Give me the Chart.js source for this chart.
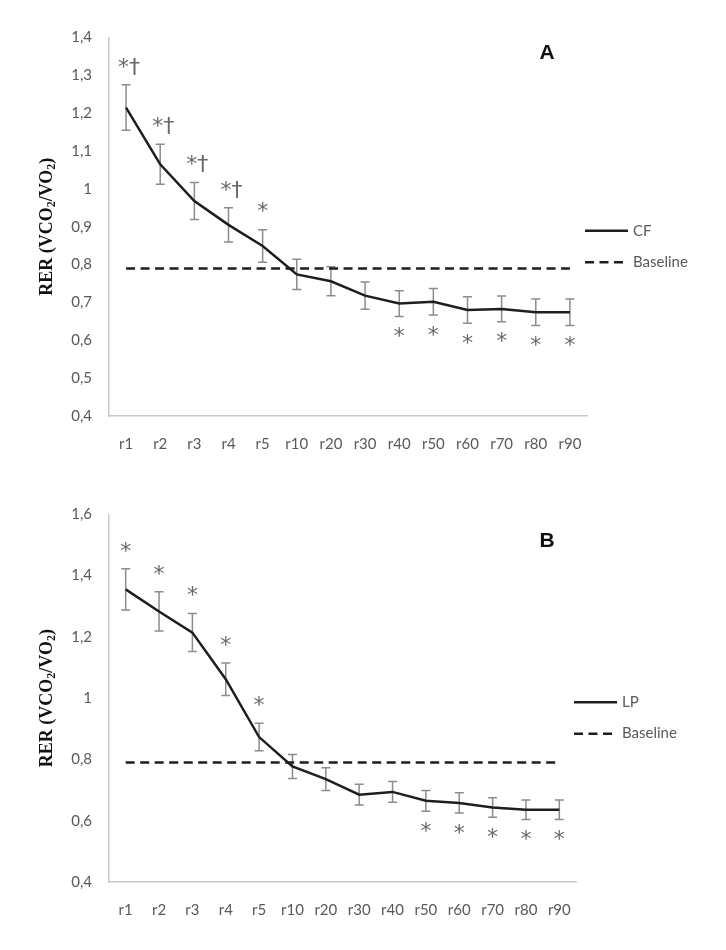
<!DOCTYPE html>
<html>
<head>
<meta charset="utf-8">
<script src="https://cdn.jsdelivr.net/npm/chart.js@4.4.1/dist/chart.umd.min.js"></script>
<style>
  html, body { margin: 0; padding: 0; background: #fff; }
  .panel { position: absolute; left: 0; width: 726px; }
  #wrapA { top: 0; height: 470px; }
  #wrapB { top: 470px; height: 480px; }
</style>
</head>
<body>
<div class="panel" id="wrapA"><canvas id="chartA"></canvas></div>
<div class="panel" id="wrapB"><canvas id="chartB"></canvas></div>
<script>
// Data
const labels = ['r1', 'r2', 'r3', 'r4', 'r5', 'r10', 'r20', 'r30', 'r40', 'r50', 'r60', 'r70', 'r80', 'r90'];

const cfMean = [1.215, 1.065, 0.968, 0.905, 0.849, 0.774, 0.756, 0.718, 0.697, 0.702, 0.680, 0.683, 0.674, 0.674];
const cfErr  = [0.060, 0.053, 0.049, 0.045, 0.043, 0.040, 0.038, 0.036, 0.034, 0.035, 0.035, 0.034, 0.035, 0.035];
const cfSig  = ['*†', '*†', '*†', '*†', '*', '', '', '', '*', '*', '*', '*', '*', '*'];
const baselineA = 0.79;
const yTicksA = ['0,4', '0,5', '0,6', '0,7', '0,8', '0,9', '1', '1,1', '1,2', '1,3', '1,4'];

const lpMean = [1.355, 1.283, 1.214, 1.062, 0.873, 0.777, 0.736, 0.685, 0.694, 0.665, 0.658, 0.643, 0.636, 0.636];
const lpErr  = [0.067, 0.064, 0.062, 0.053, 0.045, 0.039, 0.037, 0.034, 0.034, 0.034, 0.033, 0.032, 0.032, 0.032];
const lpSig  = ['*', '*', '*', '*', '*', '', '', '', '', '*', '*', '*', '*', '*'];
const baselineB = 0.79;
const yTicksB = ['0,4', '0,6', '0,8', '1', '1,2', '1,4', '1,6'];

const GREY_TEXT = '#595959';
const AXIS = '#c9c9c9';

// error bars, significance marks, legend, panel letter, axis title
const extras = {
  id: 'extras',
  beforeDatasetsDraw(chart, args, o) {
    const { ctx } = chart;
    const x = chart.scales.x, y = chart.scales.y;
    ctx.save();
    ctx.strokeStyle = '#8c8c8c';
    ctx.lineWidth = 1.5;
    o.mean.forEach((m, i) => {
      const px = x.getPixelForValue(i);
      const top = y.getPixelForValue(m + o.err[i]);
      const bot = y.getPixelForValue(m - o.err[i]);
      ctx.beginPath();
      ctx.moveTo(px, top); ctx.lineTo(px, bot);
      ctx.moveTo(px - 4.5, top); ctx.lineTo(px + 4.5, top);
      ctx.moveTo(px - 4.5, bot); ctx.lineTo(px + 4.5, bot);
      ctx.stroke();
    });
    ctx.restore();
  },
  afterDraw(chart, args, o) {
    const { ctx, chartArea } = chart;
    const x = chart.scales.x, y = chart.scales.y;
    ctx.save();

    // significance marks
    ctx.fillStyle = '#686868';
    ctx.font = '22px "DejaVu Sans"';
    ctx.textAlign = 'center';
    ctx.textBaseline = 'middle';
    o.sig.forEach((s, i) => {
      if (!s) return;
      const px = x.getPixelForValue(i);
      const m = o.mean[i];
      let py;
      if (m > o.baseline) py = y.getPixelForValue(m + o.err[i]) - 17;
      else py = y.getPixelForValue(m - o.err[i]) + 21;
      ctx.fillText(s, px + (s.length > 1 ? 3 : 0), py);
    });

    // legend
    const mid = (chartArea.top + chartArea.bottom) / 2;
    const lx = chartArea.right - 2;
    const items = [
      { text: o.seriesName, dash: [], y: mid + 4 },
      { text: 'Baseline', dash: [9, 5.5], y: mid + 35.5 }
    ];
    items.forEach(it => {
      ctx.strokeStyle = '#1e1e1e';
      ctx.lineWidth = 2.5;
      ctx.setLineDash(it.dash);
      ctx.beginPath();
      ctx.moveTo(lx, it.y); ctx.lineTo(lx + 43, it.y);
      ctx.stroke();
      ctx.setLineDash([]);
      ctx.fillStyle = GREY_TEXT;
      ctx.font = '15px Lato';
      ctx.textAlign = 'left';
      ctx.textBaseline = 'middle';
      ctx.fillText(it.text, lx + 48, it.y);
    });

    // panel letter
    ctx.fillStyle = '#111';
    ctx.font = 'bold 21px "Liberation Sans"';
    ctx.textAlign = 'center';
    ctx.textBaseline = 'middle';
    ctx.fillText(o.letter, o.letterX, o.letterY);

    // y axis title with subscripts
    const parts = [['RER (VCO', false], ['2', true], ['/VO', false], ['2', true], [')', false]];
    const big = 'bold 18px "Liberation Serif"', small = 'bold 12px "Liberation Serif"';
    let total = 0;
    parts.forEach(p => { ctx.font = p[1] ? small : big; total += ctx.measureText(p[0]).width; });
    ctx.translate(47, mid);
    ctx.rotate(-Math.PI / 2);
    ctx.fillStyle = '#111';
    ctx.textAlign = 'left';
    ctx.textBaseline = 'middle';
    let cx = -total / 2;
    parts.forEach(p => {
      ctx.font = p[1] ? small : big;
      ctx.fillText(p[0], cx, p[1] ? 5 : 0);
      cx += ctx.measureText(p[0]).width;
    });
    ctx.restore();
  }
};

function makeChart(id, mean, err, sig, baseline, name, yMin, yMax, step, yTicks, pad, xHeight, letter, letterY) {
  return new Chart(document.getElementById(id), {
    type: 'line',
    data: {
      labels: labels,
      datasets: [
        {
          label: name,
          data: mean,
          borderColor: '#1e1e1e',
          borderWidth: 2.5,
          pointRadius: 0,
          tension: 0,
          fill: false
        },
        {
          label: 'Baseline',
          data: labels.map(() => baseline),
          borderColor: '#1e1e1e',
          borderWidth: 2.5,
          borderDash: [9, 5.5],
          pointRadius: 0,
          fill: false
        }
      ]
    },
    options: {
      responsive: true,
      maintainAspectRatio: false,
      animation: false,
      layout: { padding: pad },
      plugins: {
        legend: { display: false },
        tooltip: { enabled: false },
        extras: {
          mean: mean, err: err, sig: sig, baseline: baseline, seriesName: name,
          letter: letter, letterX: 547, letterY: letterY
        }
      },
      scales: {
        x: {
          offset: true,
          grid: { display: false, drawTicks: false },
          border: { color: AXIS, width: 1.5 },
          ticks: {
            color: GREY_TEXT,
            font: { family: 'Lato', size: 15 },
            padding: 19,
            maxRotation: 0,
            autoSkip: false
          },
          afterFit: s => { s.height = xHeight; }
        },
        y: {
          min: yMin,
          max: yMax,
          grid: { display: false, drawTicks: false },
          border: { color: AXIS, width: 1.5 },
          ticks: {
            stepSize: step,
            color: GREY_TEXT,
            font: { family: 'Lato', size: 15 },
            padding: 17,
            callback: (v, i) => yTicks[i]
          },
          afterFit: s => { s.width = 109; }
        }
      }
    },
    plugins: [extras]
  });
}

makeChart('chartA', cfMean, cfErr, cfSig, baselineA, 'CF', 0.4, 1.4, 0.1, yTicksA,
  { top: 37.5, right: 139, left: 0, bottom: 0 }, 54, 'A', 53);
makeChart('chartB', lpMean, lpErr, lpSig, baselineB, 'LP', 0.4, 1.6, 0.2, yTicksB,
  { top: 44.3, right: 150, left: 0, bottom: 0 }, 68, 'B', 71);
</script>
</body>
</html>
